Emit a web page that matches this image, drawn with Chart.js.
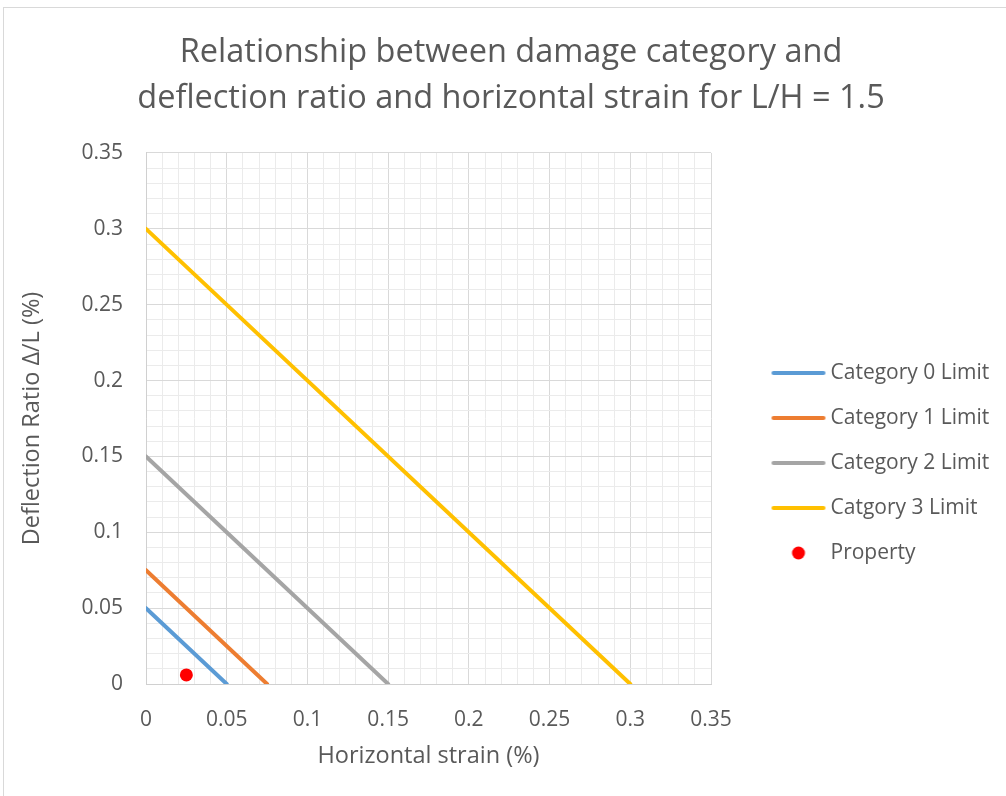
<!DOCTYPE html>
<html>
<head>
<meta charset="utf-8">
<script src="https://cdn.jsdelivr.net/npm/chart.js@4"></script>
<style>
  html, body { margin: 0; padding: 0; background: #fff; overflow: hidden; }
  #frame {
    position: absolute; left: 3px; top: 7px;
    width: 1014px; height: 800px;
    border: 1px solid #d9d9d9; background: #fff;
  }
  #chart { display: block; }
</style>
</head>
<body>
<div id="frame"><canvas id="chart" width="1014" height="800"></canvas></div>
<script>
// ---- data ----
const seriesNames = ['Category 0 Limit', 'Category 1 Limit', 'Category 2 Limit', 'Catgory 3 Limit', 'Property'];
const cat0Strain = [0, 0.05];
const cat0Deflection = [0.05, 0];
const cat1Strain = [0, 0.075];
const cat1Deflection = [0.075, 0];
const cat2Strain = [0, 0.15];
const cat2Deflection = [0.15, 0];
const cat3Strain = [0, 0.3];
const cat3Deflection = [0.3, 0];
const propertyStrain = [0.025];
const propertyDeflection = [0.006];
const axisMin = 0;
const axisMax = 0.35;
const majorStep = 0.05;
const minorStep = 0.01;

const FONT = '"Open Sans", sans-serif';
const TEXT = '#595959';
const colors = ['#5B9BD5', '#ED7D31', '#A5A5A5', '#FFC000', '#FF0000'];

// plot box inside the canvas
const CANVAS_W = 1014, CANVAS_H = 800;
const PLOT_LEFT = 142, PLOT_RIGHT = 707, PLOT_BOTTOM = 676;
const Y_TITLE_X = 28;
const AXIS_TITLE_SIZE = 23.5;
const LINE_W = 4;

const toPoints = (xs, ys) => xs.map((x, i) => ({ x: x, y: ys[i] }));

const isMajor = v => Math.abs(v / majorStep - Math.round(v / majorStep)) < 1e-6;
const tickLabel = v => isMajor(v) ? String(Math.round(v * 100) / 100) : '';
const gridColor = ctx => (ctx.tick && isMajor(ctx.tick.value)) ? '#d9d9d9' : '#ebebeb';

// legend swatches (line sample or dot), drawn as point-style images
const LEG_FONT = 21;
const LEG_PAD = 45 - LEG_FONT;
const LEG_PW = 85;      // reserved box width in legend
const SW = 54;          // visible swatch length
const GAP = 5;          // swatch -> text gap
function makeSwatch(color, kind) {
    const c = document.createElement('canvas');
    c.width = LEG_PW + LEG_FONT;
    c.height = 16;
    const g = c.getContext('2d');
    const x1 = c.width - GAP - SW, x2 = c.width - GAP;
    if (kind === 'dot') {
        g.fillStyle = color;
        g.beginPath();
        g.arc((x1 + x2) / 2, 8, 6.5, 0, Math.PI * 2);
        g.fill();
    } else {
        g.strokeStyle = color;
        g.lineWidth = LINE_W;
        g.lineCap = 'round';
        g.beginPath();
        g.moveTo(x1 + 2, 8);
        g.lineTo(x2 - 2, 8);
        g.stroke();
    }
    return c;
}

// legend width is padding + box + gap + longest text + 10; the rest goes to side padding
const measure = document.createElement('canvas').getContext('2d');
measure.font = LEG_FONT + 'px ' + FONT;
const longest = Math.max(...seriesNames.map(s => measure.measureText(s).width));
const legendW = LEG_PAD + LEG_PW + LEG_FONT / 2 + longest + 10;
const sidePad = CANVAS_W - PLOT_RIGHT - legendW;   // same on both sides keeps the title centred

function lineSet(i, xs, ys) {
    return {
        label: seriesNames[i],
        data: toPoints(xs, ys),
        showLine: true,
        borderColor: colors[i],
        backgroundColor: colors[i],
        borderWidth: LINE_W,
        borderCapStyle: 'round',
        pointRadius: 0,
        pointHoverRadius: 0,
        swatch: makeSwatch(colors[i], 'line')
    };
}

const datasets = [
    lineSet(0, cat0Strain, cat0Deflection),
    lineSet(1, cat1Strain, cat1Deflection),
    lineSet(2, cat2Strain, cat2Deflection),
    lineSet(3, cat3Strain, cat3Deflection),
    {
        label: seriesNames[4],
        data: toPoints(propertyStrain, propertyDeflection),
        showLine: false,
        borderColor: colors[4],
        backgroundColor: colors[4],
        pointRadius: 6.5,
        pointBorderWidth: 0,
        swatch: makeSwatch(colors[4], 'dot')
    }
];

function axis(title, tickPad, titleFont, titlePad, fit) {
    return {
        type: 'linear',
        min: axisMin,
        max: axisMax,
        border: { color: '#d0d0d0', width: 1 },
        grid: { color: gridColor, lineWidth: 1, drawTicks: false },
        ticks: {
            stepSize: minorStep,
            autoSkip: false,
            maxRotation: 0,
            padding: tickPad,
            color: TEXT,
            font: { family: FONT, size: 21 },
            callback: v => tickLabel(v)
        },
        title: {
            display: true,
            text: title,
            color: TEXT,
            font: titleFont,
            padding: titlePad
        },
        afterFit: fit
    };
}

const yTitleLH = 1;
const yTitlePadTop = Y_TITLE_X - sidePad - AXIS_TITLE_SIZE * yTitleLH / 2;

new Chart(document.getElementById('chart'), {
    type: 'scatter',
    data: { datasets: datasets },
    options: {
        responsive: false,
        animation: false,
        layout: { padding: { left: sidePad, right: sidePad, top: 0, bottom: 0 } },
        scales: {
            x: axis('Horizontal strain (%)', 23,
                { family: FONT, size: AXIS_TITLE_SIZE, lineHeight: 1.2 }, { top: 0, bottom: 38 },
                s => { s.height = CANVAS_H - PLOT_BOTTOM; }),
            y: axis('Deflection Ratio \u0394/L (%)', 23,
                { family: FONT, size: AXIS_TITLE_SIZE, lineHeight: yTitleLH }, { top: yTitlePadTop, bottom: 0 },
                s => { s.width = PLOT_LEFT - sidePad; })
        },
        plugins: {
            title: {
                display: true,
                text: ['Relationship between damage category and',
                       'deflection ratio and horizontal strain for L/H = 1.5'],
                color: TEXT,
                font: { family: FONT, size: 32.5, weight: 'normal', lineHeight: 1.415 },
                padding: { top: 22, bottom: 31 }
            },
            legend: {
                position: 'right',
                maxWidth: 600,
                title: { display: true, text: ' ', font: { size: 10, lineHeight: 1 }, padding: { top: 100, bottom: 0 } },
                labels: {
                    usePointStyle: true,
                    pointStyleWidth: LEG_PW,
                    padding: LEG_PAD,
                    color: TEXT,
                    font: { family: FONT, size: LEG_FONT },
                    generateLabels: chart => chart.data.datasets.map((ds, i) => ({
                        text: ds.label,
                        pointStyle: ds.swatch,
                        fontColor: TEXT,
                        lineWidth: 0,
                        hidden: false,
                        datasetIndex: i
                    }))
                }
            },
            tooltip: { enabled: false }
        }
    }
});
</script>
</body>
</html>
